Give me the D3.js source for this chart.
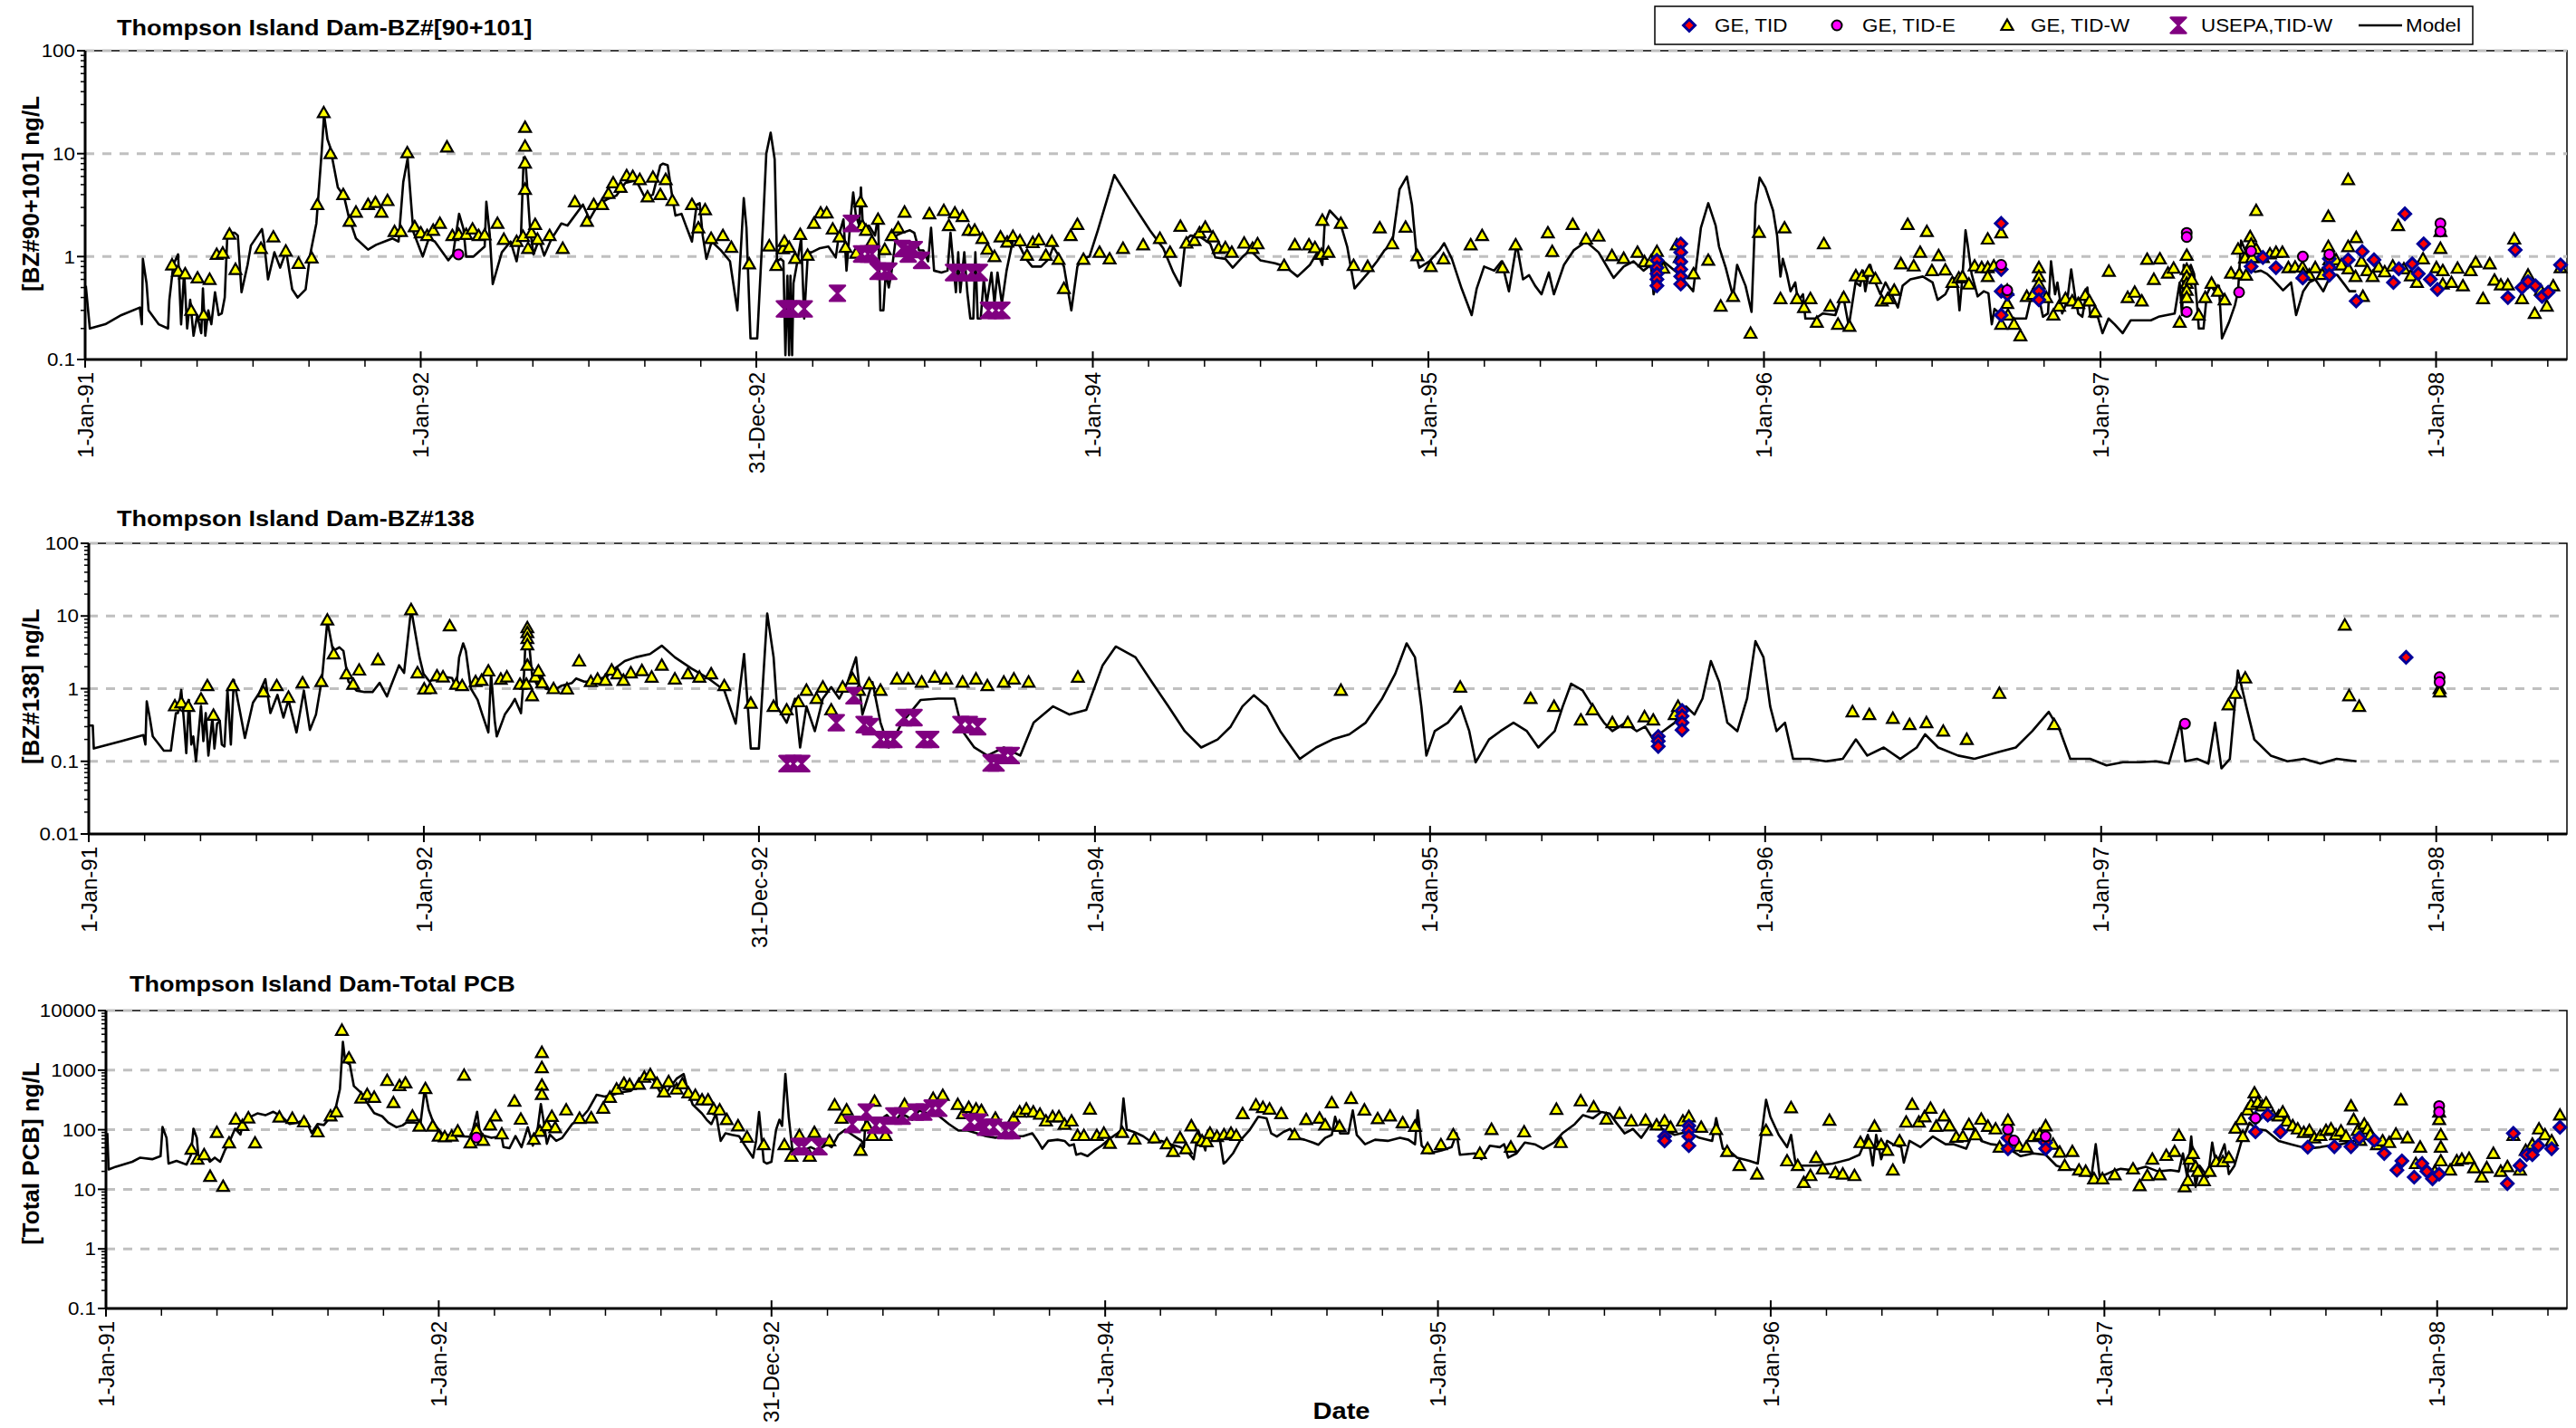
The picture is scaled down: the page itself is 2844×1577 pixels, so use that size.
<!DOCTYPE html>
<html>
<head>
<meta charset="utf-8">
<title>Thompson Island Dam PCB congeners</title>
<script src="https://cdn.jsdelivr.net/npm/d3@7"></script>
<style>
html,body{margin:0;padding:0;background:#fff;}
svg{display:block;}
</style>
</head>
<body>
<svg id="chart" width="2844" height="1577"></svg>
<script>
// ---------- axis labels ----------
const xTickDates = ["1991-01-01","1992-01-01","1992-12-31","1994-01-01","1995-01-01","1996-01-01","1997-01-01","1998-01-01"];
const xTickLabels = ["1-Jan-91","1-Jan-92","31-Dec-92","1-Jan-94","1-Jan-95","1-Jan-96","1-Jan-97","1-Jan-98"];
const panelTitles = ["Thompson Island Dam-BZ#[90+101]","Thompson Island Dam-BZ#138","Thompson Island Dam-Total PCB"];
const yTitles = ["[BZ#90+101] ng/L","[BZ#138] ng/L","[Total PCB] ng/L"];
const legendLabels = ["GE, TID","GE, TID-E","GE, TID-W","USEPA,TID-W","Model"];
const xTitle = "Date";

// ---------- BZ#90+101 (ng/L), [decimal year, value] ----------
const bz90Model = [[1991.002,0.52],[1991.014,0.2],[1991.06,0.22],[1991.108,0.27],[1991.163,0.32],[1991.169,0.22],[1991.172,0.95],[1991.183,0.55],[1991.189,0.3],[1991.219,0.22],[1991.247,0.2],[1991.251,0.38],[1991.263,0.84],[1991.277,1.05],[1991.286,0.22],[1991.295,0.72],[1991.304,0.2],[1991.313,0.38],[1991.323,0.17],[1991.334,0.27],[1991.346,0.18],[1991.351,0.49],[1991.358,0.17],[1991.367,0.3],[1991.376,0.22],[1991.387,0.45],[1991.398,0.27],[1991.407,0.28],[1991.416,0.4],[1991.424,1.7],[1991.446,1.7],[1991.455,1.6],[1991.466,0.45],[1991.484,0.83],[1991.494,1.28],[1991.514,1.6],[1991.527,1.85],[1991.533,1.4],[1991.545,0.6],[1991.564,1.1],[1991.581,0.78],[1991.599,1.13],[1991.617,0.48],[1991.633,0.4],[1991.657,0.48],[1991.67,1.02],[1991.689,2.1],[1991.705,10.6],[1991.712,24],[1991.722,13.8],[1991.73,11.6],[1991.753,4.7],[1991.771,3.9],[1991.786,2.4],[1991.807,1.5],[1991.843,1.17],[1991.867,1.3],[1991.892,1.4],[1991.916,1.5],[1991.934,1.4],[1991.948,5.3],[1991.961,9],[1991.978,1.74],[1992.006,1.0],[1992.024,1.5],[1992.042,1.4],[1992.082,0.92],[1992.096,1.05],[1992.114,2.6],[1992.127,1.85],[1992.135,1.0],[1992.157,1.0],[1992.19,1.25],[1992.195,3.4],[1992.205,1.65],[1992.214,0.54],[1992.241,1.1],[1992.267,1.4],[1992.285,0.9],[1992.298,1.63],[1992.306,9.2],[1992.313,7],[1992.325,1.85],[1992.335,1.05],[1992.352,1.47],[1992.367,1.02],[1992.388,1.47],[1992.418,2.1],[1992.436,2.0],[1992.482,3.2],[1992.502,2.3],[1992.527,3.2],[1992.554,3.6],[1992.581,3.9],[1992.608,5.2],
[1992.64,5.5],[1992.667,3.7],[1992.69,4.0],[1992.712,7.7],[1992.72,8],[1992.734,7.7],[1992.748,3.7],[1992.757,2.5],[1992.775,2.6],[1992.788,2.0],[1992.806,1.4],[1992.82,3.2],[1992.829,3.3],[1992.838,1.6],[1992.849,0.95],[1992.865,1.4],[1992.892,1.15],[1992.919,0.9],[1992.941,0.3],[1992.96,3.7],[1992.968,1.9],[1992.98,0.16],[1993.0,0.16],[1993.018,2.3],[1993.027,10],[1993.04,16],[1993.052,8.8],[1993.059,0.9],[1993.07,0.95],[1993.078,0.9],[1993.084,0.11],[1993.09,0.65],[1993.095,0.11],[1993.099,0.65],[1993.104,0.11],[1993.108,0.55],[1993.117,0.8],[1993.131,1.5],[1993.14,0.25],[1993.151,1.1],[1993.162,1.1],[1993.185,1.2],[1993.212,1.25],[1993.234,0.98],[1993.243,1.6],[1993.257,2.3],[1993.266,0.73],[1993.279,2.5],[1993.286,4.2],[1993.294,2.5],[1993.304,2.0],[1993.309,4.7],[1993.315,1.9],[1993.333,2.0],[1993.351,1.6],[1993.36,2.5],[1993.367,0.3],[1993.376,0.3],[1993.383,0.7],[1993.392,0.5],[1993.4,0.7],[1993.414,1.6],[1993.432,1.7],[1993.455,1.8],[1993.468,1.7],[1993.482,1.15],[1993.495,1.15],[1993.509,0.9],[1993.518,1.9],[1993.527,0.73],[1993.549,0.7],[1993.567,0.73],[1993.576,1.7],[1993.585,0.8],[1993.592,0.45],[1993.599,1.1],[1993.605,0.45],[1993.617,1.1],[1993.626,0.45],[1993.635,0.25],[1993.644,0.25],[1993.65,1.1],[1993.657,0.25],[1993.666,0.25],[1993.675,0.6],[1993.684,0.35],[1993.698,0.7],[1993.707,0.35],[1993.716,0.7],[1993.729,0.35],[1993.743,0.73],[1993.763,1.5],[1993.783,1.25],[1993.801,0.95],[1993.819,0.8],[1993.846,0.8],[1993.869,0.95],[1993.882,1.25],[1993.9,1.0],[1993.914,0.8],[1993.936,0.3],[1993.954,0.8],[1993.968,0.95],[1993.99,1.0],
[1994.015,1.8],[1994.064,6.2],[1994.12,3.2],[1994.17,1.8],[1994.21,1.2],[1994.24,0.7],
[1994.261,0.52],[1994.276,1.43],[1994.291,1.6],[1994.32,1.55],[1994.35,1.33],[1994.365,0.98],[1994.395,0.95],[1994.417,0.78],[1994.447,1.0],[1994.469,1.15],[1994.499,0.92],[1994.543,0.86],[1994.573,0.8],[1994.61,0.64],[1994.647,0.83],[1994.669,1.1],[1994.684,0.83],[1994.691,2.1],[1994.706,2.8],[1994.736,2.2],[1994.758,1.25],[1994.78,0.49],[1994.818,0.68],[1994.847,0.9],[1994.869,1.15],[1994.892,1.33],[1994.914,4.5],[1994.936,6.0],[1994.951,3.2],[1994.966,0.95],[1994.973,0.78],[1995.003,0.9],[1995.033,1.15],[1995.047,1.35],[1995.07,0.95],[1995.099,0.49],[1995.129,0.27],[1995.144,0.49],[1995.166,0.8],[1995.196,0.73],[1995.218,0.9],[1995.24,0.46],[1995.263,1.33],[1995.282,0.6],[1995.3,0.66],[1995.318,0.52],[1995.337,0.43],[1995.359,0.7],[1995.374,0.43],[1995.404,0.83],[1995.433,1.15],[1995.47,1.4],[1995.507,1.1],[1995.552,0.62],[1995.582,0.8],[1995.611,0.9],[1995.641,0.73],[1995.663,0.83],[1995.671,0.43],[1995.682,0.56],[1995.7,0.9],[1995.745,0.68],[1995.789,0.46],[1995.812,1.9],[1995.834,3.3],[1995.856,2.0],[1995.866,1.25],[1995.886,0.78],[1995.908,0.41],[1995.92,0.83],[1995.945,0.52],[1995.963,0.29],[1995.975,3.2],[1995.987,5.85],[1996.004,4.7],[1996.027,2.8],[1996.039,1.6],[1996.049,0.64],[1996.056,0.95],[1996.068,0.68],[1996.079,0.46],[1996.093,0.56],[1996.101,0.37],[1996.116,0.43],[1996.123,0.25],[1996.153,0.25],[1996.175,0.28],[1996.212,0.27],[1996.234,0.44],[1996.252,0.21],[1996.272,0.56],[1996.286,0.52],[1996.294,0.73],[1996.301,0.46],[1996.316,0.83],[1996.331,0.56],[1996.346,0.43],[1996.361,0.56],[1996.375,0.46],[1996.398,0.32],[1996.412,0.52],[1996.435,0.6],[1996.472,0.64],[1996.501,0.56],[1996.516,0.38],[1996.539,0.43],
[1996.563,0.62],[1996.575,0.52],[1996.581,0.3],[1996.59,0.65],[1996.599,1.8],[1996.605,1.33],[1996.617,0.68],[1996.635,0.41],[1996.653,0.46],[1996.667,0.44],[1996.677,0.22],[1996.685,0.31],[1996.701,0.28],[1996.719,0.26],[1996.743,0.25],[1996.779,0.25],[1996.791,0.37],[1996.805,0.49],[1996.817,0.4],[1996.829,0.26],[1996.844,0.28],[1996.853,0.9],[1996.865,0.43],[1996.872,0.56],[1996.886,0.28],[1996.901,0.37],[1996.913,0.75],[1996.925,0.4],[1996.934,0.28],[1996.946,0.26],[1996.961,0.5],[1996.97,0.26],[1996.992,0.26],[1997.006,0.18],[1997.024,0.25],[1997.042,0.22],[1997.066,0.18],[1997.09,0.24],[1997.126,0.24],[1997.15,0.24],[1997.173,0.26],[1997.197,0.27],[1997.221,0.28],[1997.236,0.56],[1997.243,0.27],[1997.248,0.83],[1997.257,0.62],[1997.269,0.83],[1997.279,0.68],[1997.287,0.37],[1997.293,0.2],[1997.307,0.2],[1997.317,0.43],[1997.329,0.52],[1997.341,0.46],[1997.353,0.52],[1997.362,0.16],[1997.383,0.23],[1997.401,0.34],[1997.41,0.46],[1997.419,1.43],[1997.431,1.16],[1997.443,0.78],[1997.461,0.71],[1997.478,0.73],[1997.496,0.68],[1997.514,0.6],[1997.544,0.47],[1997.568,0.56],[1997.583,0.27],[1997.604,0.46],[1997.622,0.56],[1997.64,0.6],[1997.664,0.46],[1997.688,0.68],[1997.706,0.66],[1997.73,0.52],[1997.742,0.46],[1997.762,0.46]];

const bz90TidW = [[1991.259,0.83],[1991.277,0.72],[1991.298,0.68],[1991.316,0.3],[1991.335,0.62],[1991.353,0.27],[1991.371,0.6],[1991.392,1.05],[1991.41,1.08],[1991.43,1.65],[1991.448,0.75],[1991.524,1.2],[1991.561,1.55],[1991.598,1.13],[1991.636,0.86],[1991.675,0.97],[1991.692,3.2],[1991.711,25],[1991.731,10],[1991.769,4.0],[1991.788,2.2],[1991.807,2.7],[1991.843,3.2],[1991.865,3.35],[1991.883,2.7],[1991.901,3.5],[1991.922,1.75],[1991.941,1.75],[1991.96,10.2],[1991.982,1.95],[1992.0,1.7],[1992.019,1.6],[1992.037,1.8],[1992.057,2.1],[1992.078,11.6],[1992.094,1.6],[1992.113,1.64],[1992.135,1.64],[1992.154,1.85],[1992.172,1.6],[1992.19,1.62],[1992.228,2.1],[1992.247,1.47],[1992.285,1.4],[1992.304,1.57],[1992.31,18],[1992.31,11.8],[1992.31,8.1],[1992.31,4.5],[1992.319,1.2],[1992.329,1.7],[1992.34,2.05],[1992.347,1.47],[1992.383,1.6],[1992.422,1.2],[1992.458,3.4],[1992.494,2.2],[1992.514,3.2],[1992.539,3.2],[1992.558,4.1],[1992.572,5.2],[1992.594,4.7],[1992.612,6.1],[1992.63,6.0],
[1992.651,5.6],[1992.674,3.8],[1992.69,5.9],[1992.712,4.0],[1992.728,5.6],[1992.748,3.5],[1992.806,3.2],[1992.825,1.9],[1992.845,2.85],[1992.863,1.5],[1992.898,1.6],[1992.923,1.23],[1992.976,0.85],[1993.036,1.27],[1993.057,0.82],[1993.077,1.19],[1993.081,1.4],[1993.095,1.23],[1993.113,0.96],[1993.128,1.64],[1993.15,1.03],[1993.169,2.1],[1993.189,2.65],[1993.207,2.65],[1993.225,1.85],[1993.245,1.55],[1993.263,1.23],[1993.295,1.08],[1993.308,3.4],[1993.313,2.0],[1993.324,1.8],[1993.342,1.4],[1993.36,2.3],[1993.38,1.17],[1993.401,1.6],[1993.42,1.9],[1993.439,2.7],[1993.513,2.6],[1993.556,2.8],[1993.571,2.0],[1993.589,2.65],[1993.612,2.45],[1993.63,1.8],[1993.648,1.8],[1993.671,1.5],[1993.686,1.18],[1993.707,1.0],[1993.725,1.55],[1993.745,1.38],[1993.762,1.57],[1993.783,1.42],[1993.804,1.03],[1993.821,1.37],[1993.839,1.45],[1993.86,1.03],[1993.878,1.4],[1993.898,0.94],[1993.914,0.49],[1993.934,1.6],[1993.954,2.05],[1993.972,0.94],
[1994.02,1.1],[1994.05,0.95],[1994.09,1.2],[1994.15,1.3],[1994.2,1.5],[1994.23,1.1],
[1994.261,1.97],[1994.279,1.35],[1994.303,1.43],[1994.318,1.7],[1994.335,1.93],[1994.358,1.55],[1994.375,1.2],[1994.395,1.22],[1994.414,1.1],[1994.451,1.35],[1994.476,1.2],[1994.491,1.33],[1994.57,0.82],[1994.602,1.3],[1994.644,1.3],[1994.662,1.22],[1994.681,1.05],[1994.684,2.25],[1994.702,1.1],[1994.739,2.1],[1994.777,0.82],[1994.819,0.8],[1994.855,1.9],[1994.892,1.33],[1994.932,1.93],[1994.967,1.02],[1995.007,0.8],[1995.045,0.95],[1995.126,1.3],[1995.16,1.6],[1995.221,0.78],[1995.26,1.3],[1995.356,1.7],[1995.369,1.12],[1995.43,2.05],[1995.47,1.48],[1995.507,1.58],[1995.547,1.02],[1995.582,0.96],[1995.623,1.1],[1995.644,0.89],[1995.663,0.9],[1995.681,1.12],[1995.7,0.77],[1995.74,1.3],[1995.749,0.98],[1995.79,0.68],[1995.834,0.92],[1995.871,0.33],[1995.908,0.41],[1995.96,0.18],[1995.985,1.72],[1996.049,0.39],[1996.061,1.9],[1996.098,0.39],[1996.119,0.32],[1996.138,0.39],[1996.157,0.23],[1996.178,1.33],[1996.197,0.33],[1996.22,0.22],[1996.237,0.4],[1996.254,0.21],[1996.273,0.65],[1996.291,0.64],[1996.312,0.72],[1996.331,0.61],[1996.35,0.37],[1996.368,0.39],[1996.387,0.47],[1996.407,0.85],[1996.427,2.05],[1996.445,0.81],[1996.464,1.1],[1996.484,1.75],[1996.499,0.73],[1996.519,1.02],[1996.539,0.74],[1996.56,0.56],[1996.579,0.62],
[1996.59,0.64],[1996.609,0.54],[1996.626,0.81],[1996.647,0.78],[1996.665,1.48],[1996.665,0.78],[1996.665,0.64],[1996.683,0.81],[1996.705,1.7],[1996.705,0.22],[1996.723,0.47],[1996.723,0.35],[1996.725,0.27],[1996.743,0.22],[1996.762,0.17],[1996.781,0.41],[1996.8,0.43],[1996.817,0.78],[1996.817,0.64],[1996.817,0.54],[1996.839,0.4],[1996.86,0.27],[1996.877,0.33],[1996.896,0.39],[1996.916,0.37],[1996.934,0.35],[1996.955,0.42],[1996.967,0.37],[1996.984,0.29],[1997.025,0.72],[1997.081,0.4],[1997.102,0.45],[1997.123,0.37],[1997.139,0.94],[1997.159,0.6],[1997.177,0.95],[1997.201,0.69],[1997.218,0.77],[1997.236,0.23],[1997.257,1.03],[1997.257,0.75],[1997.257,0.64],[1997.257,0.55],[1997.257,0.47],[1997.257,0.4],[1997.272,0.6],[1997.293,0.27],[1997.312,0.4],[1997.331,0.55],[1997.35,0.46],[1997.37,0.38],[1997.389,0.69],[1997.41,1.18],[1997.414,0.68],[1997.431,0.97],[1997.434,0.66],[1997.446,1.56],[1997.449,1.32],[1997.452,0.98],[1997.464,1.18],[1997.464,2.8],[1997.484,0.98],[1997.505,1.06],[1997.523,1.1],[1997.542,1.1],[1997.56,0.78],[1997.58,0.79],[1997.602,0.79],[1997.604,0.68],[1997.622,0.66],[1997.64,0.78],[1997.661,0.67],[1997.679,2.45],[1997.679,1.25],[1997.682,0.93],[1997.702,0.93],[1997.718,0.83],[1997.738,5.6],[1997.738,1.25],[1997.739,0.76],[1997.76,0.64],[1997.762,1.53],[1997.778,0.9],[1997.782,0.41],[1997.795,0.73],[1997.811,0.64],[1997.829,0.79],[1997.847,0.71],[1997.871,0.81],[1997.887,2.0],[1997.904,0.76],[1997.925,0.65],[1997.943,0.56],[1997.961,0.95],[1998.001,0.78],[1998.013,1.2],[1998.013,1.75],[1998.02,0.73],[1998.02,0.54],[1998.046,0.56],[1998.064,0.77],[1998.08,0.52],[1998.103,0.73],[1998.118,0.88],[1998.14,0.39],[1998.16,0.85],[1998.174,0.59],[1998.193,0.53],[1998.214,0.53],[1998.233,1.48],[1998.256,0.39],[1998.274,0.66],[1998.294,0.28],[1998.312,0.47],[1998.33,0.33],[1998.349,0.52],[1998.371,0.78]];

const bz90Tid = [[1995.681,0.92],[1995.681,0.78],[1995.681,0.68],[1995.681,0.6],[1995.681,0.52],[1995.752,1.33],[1995.752,1.1],[1995.752,0.89],[1995.752,0.75],[1995.752,0.64],[1995.752,0.54],[1996.705,2.1],[1996.705,0.75],[1996.705,0.46],[1996.705,0.27],[1996.723,0.43],[1996.817,0.46],[1996.817,0.38],[1997.449,0.8],[1997.484,0.98],[1997.523,0.78],[1997.603,0.62],[1997.682,0.95],[1997.682,0.78],[1997.682,0.66],[1997.738,0.93],[1997.762,0.37],[1997.78,1.12],[1997.815,0.93],[1997.873,0.56],[1997.889,0.76],[1997.907,2.6],[1997.929,0.85],[1997.947,0.68],[1997.963,1.33],[1997.983,0.6],[1998.004,0.48],[1998.214,0.4],[1998.236,1.16],[1998.256,0.5],[1998.274,0.57],[1998.296,0.52],[1998.316,0.41],[1998.334,0.45],[1998.371,0.83]];

const bz90TidE = [[1992.112,1.05],[1996.705,0.83],[1996.723,0.47],[1997.257,1.7],[1997.257,1.55],[1997.257,0.29],[1997.413,0.45],[1997.449,1.13],[1997.603,1.0],[1997.682,1.05],[1998.013,2.1],[1998.013,1.75]];

const bz90Usepa = [[1993.081,0.31],[1993.093,0.31],[1993.104,0.31],[1993.14,0.31],[1993.239,0.44],[1993.281,2.1],[1993.311,1.06],[1993.33,1.06],[1993.342,1.06],[1993.36,0.72],[1993.38,0.72],[1993.392,0.72],[1993.432,1.2],[1993.45,1.06],[1993.468,1.17],[1993.49,0.92],[1993.585,0.7],[1993.612,0.7],[1993.639,0.7],[1993.662,0.7],[1993.689,0.3],[1993.711,0.3],[1993.729,0.3]];

// ---------- BZ#138 (ng/L) ----------
const bz138Model = [[1991.002,0.31],[1991.012,0.31],[1991.015,0.15],[1991.097,0.19],[1991.163,0.23],[1991.169,0.17],[1991.173,0.67],[1991.182,0.4],[1991.191,0.22],[1991.224,0.14],[1991.245,0.14],[1991.252,0.25],[1991.26,0.46],[1991.266,0.46],[1991.276,0.96],[1991.284,0.36],[1991.291,0.13],[1991.299,0.7],[1991.306,0.17],[1991.312,0.22],[1991.32,0.1],[1991.326,0.2],[1991.335,0.58],[1991.342,0.19],[1991.349,0.46],[1991.357,0.12],[1991.363,0.22],[1991.369,0.4],[1991.375,0.15],[1991.383,0.33],[1991.391,0.36],[1991.397,0.17],[1991.405,0.16],[1991.414,0.96],[1991.424,0.17],[1991.433,1.32],[1991.448,0.58],[1991.466,0.21],[1991.49,0.64],[1991.508,0.86],[1991.527,1.35],[1991.542,0.46],[1991.563,0.82],[1991.581,0.4],[1991.596,0.7],[1991.62,0.25],[1991.642,0.94],[1991.66,0.27],[1991.678,0.44],[1991.696,1.38],[1991.712,8.5],[1991.729,3.3],[1991.748,3.7],[1991.76,3.3],[1991.775,1.25],[1991.799,0.94],[1991.823,0.9],[1991.847,0.9],[1991.868,1.2],[1991.89,0.78],[1991.902,1.1],[1991.926,2.1],[1991.941,1.65],[1991.962,12.5],[1991.987,2.7],[1991.999,1.6],[1992.017,1.25],[1992.041,1.5],[1992.084,1.4],[1992.096,1.0],[1992.105,2.7],[1992.117,4.2],[1992.125,3.3],[1992.14,1.0],[1992.16,0.7],[1992.174,0.44],[1992.192,0.25],[1992.2,1.6],[1992.211,0.36],[1992.217,0.22],[1992.241,0.44],[1992.259,0.58],[1992.271,0.72],[1992.289,0.46],[1992.298,1.55],[1992.305,7.7],[1992.314,3.8],[1992.322,1.55],[1992.338,1.1],[1992.35,1.55],[1992.362,1.0],[1992.386,0.94],[1992.41,1.1],[1992.441,1.2],[1992.453,1.38],[1992.477,1.25],[1992.501,1.25],[1992.525,1.38],[1992.544,1.45],[1992.562,1.8],[1992.598,2.4],
[1992.63,2.7],[1992.673,3.0],[1992.708,3.9],[1992.747,2.7],[1992.796,1.9],[1992.845,1.4],[1992.894,0.95],[1992.928,0.33],[1992.953,3.0],[1992.973,0.15],[1992.997,0.15],[1993.022,10.8],[1993.041,2.7],[1993.051,0.57],[1993.08,0.34],[1993.105,0.73],[1993.12,0.155],[1993.139,0.57],[1993.164,0.26],[1993.188,0.73],[1993.213,1.05],[1993.237,0.73],[1993.262,1.23],[1993.287,2.7],[1993.306,0.44],[1993.336,1.23],[1993.36,0.34],[1993.385,0.155],[1993.424,0.34],[1993.48,0.7],[1993.532,0.73],[1993.581,0.73],[1993.605,0.26],[1993.64,0.155],[1993.679,0.12],[1993.728,0.155],[1993.777,0.12],[1993.817,0.34],[1993.875,0.57],[1993.924,0.44],[1993.974,0.51],[1994.023,2.1],[1994.062,3.8],[1994.121,2.7],[1994.17,1.23],[1994.219,0.57],[1994.268,0.26],[1994.317,0.155],[1994.366,0.2],[1994.405,0.3],[1994.44,0.57],[1994.474,0.81],[1994.513,0.57],[1994.553,0.26],[1994.587,0.155],[1994.611,0.108],[1994.66,0.155],[1994.709,0.2],[1994.759,0.235],[1994.808,0.34],[1994.857,0.73],[1994.896,1.6],[1994.93,4.2],[1994.955,2.7],[1994.974,0.57],[1994.989,0.12],[1995.014,0.26],[1995.053,0.34],[1995.092,0.57],[1995.117,0.26],[1995.136,0.097],[1995.176,0.2],[1995.21,0.26],[1995.249,0.34],[1995.289,0.26],[1995.323,0.155],[1995.372,0.26],[1995.396,0.57],[1995.421,1.17],[1995.455,0.95],[1995.485,0.57],[1995.519,0.34],[1995.544,0.26],[1995.583,0.34],[1995.617,0.26],[1995.642,0.3],[1995.666,0.2],[1995.691,0.25],[1995.73,0.34],[1995.764,0.57],[1995.789,0.44],[1995.813,0.73],[1995.838,2.4],[1995.863,1.23],[1995.887,0.34],[1995.917,0.26],[1995.946,0.73],[1995.971,4.5],[1995.995,2.7],[1996.015,0.57],[1996.034,0.26],[1996.059,0.34],[1996.083,0.108],[1996.132,0.108],[1996.181,0.1],[1996.231,0.108],[1996.27,0.2],[1996.304,0.12],[1996.353,0.155],[1996.402,0.108],[1996.451,0.155],[1996.476,0.235],[1996.515,0.155],[1996.574,0.12],[1996.623,0.108],[1996.697,0.135],[1996.746,0.155],[1996.795,0.26],[1996.844,0.48],[1996.878,0.26],[1996.908,0.108],[1996.967,0.108],[1997.016,0.088],[1997.065,0.097],[1997.114,0.097],[1997.163,0.1],[1997.202,0.093],[1997.237,0.34],[1997.251,0.1],[1997.286,0.108],[1997.32,0.093],[1997.34,0.34],[1997.359,0.08],[1997.384,0.108],[1997.408,1.77],[1997.433,0.57],[1997.457,0.2],[1997.506,0.12],[1997.556,0.1],[1997.605,0.108],[1997.654,0.093],[1997.703,0.108],[1997.762,0.1]];

const bz138TidW = [[1991.257,0.58],[1991.276,0.64],[1991.297,0.57],[1991.335,0.72],[1991.354,1.1],[1991.372,0.43],[1991.43,1.1],[1991.521,0.9],[1991.561,1.1],[1991.596,0.76],[1991.638,1.2],[1991.694,1.25],[1991.712,8.8],[1991.731,3.0],[1991.769,1.6],[1991.789,1.15],[1991.807,1.8],[1991.863,2.5],[1991.962,12.2],[1991.981,1.65],[1992.001,0.99],[1992.019,1.0],[1992.039,1.5],[1992.057,1.45],[1992.077,7.3],[1992.096,1.15],[1992.114,1.1],[1992.154,1.25],[1992.172,1.3],[1992.192,1.75],[1992.229,1.35],[1992.247,1.45],[1992.286,1.15],[1992.308,6.9],[1992.308,5.9],[1992.308,4.9],[1992.308,4.0],[1992.308,2.1],[1992.305,1.15],[1992.322,0.8],[1992.332,1.45],[1992.341,1.75],[1992.352,1.2],[1992.386,1.0],[1992.426,0.99],[1992.462,2.4],[1992.497,1.25],[1992.517,1.35],[1992.54,1.3],[1992.559,1.8],[1992.576,1.6],[1992.594,1.3],[1992.616,1.65],
[1992.649,1.77],[1992.678,1.44],[1992.708,2.1],[1992.747,1.36],[1992.786,1.6],[1992.82,1.44],[1992.855,1.6],[1992.894,1.1],[1992.973,0.63],[1993.041,0.57],[1993.08,0.51],[1993.115,0.66],[1993.139,0.95],[1993.169,0.73],[1993.188,1.05],[1993.213,0.51],[1993.247,1.05],[1993.277,1.36],[1993.296,0.95],[1993.326,1.17],[1993.36,0.95],[1993.409,1.36],[1993.443,1.36],[1993.483,1.23],[1993.522,1.44],[1993.556,1.36],[1993.605,1.23],[1993.645,1.36],[1993.679,1.1],[1993.728,1.23],[1993.758,1.36],[1993.802,1.23],[1993.949,1.44],
[1994.734,0.95],[1995.09,1.05],[1995.3,0.73],[1995.37,0.57],[1995.45,0.37],[1995.485,0.51],[1995.544,0.34],[1995.59,0.34],[1995.64,0.41],[1995.666,0.37],[1995.73,0.44],[1995.74,0.57],[1996.26,0.48],[1996.31,0.44],[1996.38,0.39],[1996.43,0.32],[1996.48,0.34],[1996.53,0.26],[1996.6,0.2],[1996.697,0.86],[1996.86,0.32],[1997.38,0.6],[1997.4,0.86],[1997.43,1.4],[1997.727,7.5],[1997.74,0.8],[1997.77,0.57],[1998.01,1.0],[1998.01,0.9]];

const bz138Tid = [[1995.681,0.22],[1995.681,0.19],[1995.681,0.16],[1995.752,0.5],[1995.752,0.42],[1995.752,0.34],[1995.752,0.27],[1997.91,2.7]];
const bz138TidE = [[1997.25,0.33],[1998.01,1.44],[1998.01,1.23]];
const bz138Usepa = [[1993.081,0.093],[1993.1,0.093],[1993.125,0.093],[1993.228,0.34],[1993.281,0.8],[1993.311,0.32],[1993.33,0.3],[1993.36,0.2],[1993.38,0.2],[1993.4,0.2],[1993.43,0.4],[1993.46,0.4],[1993.49,0.2],[1993.51,0.2],[1993.6,0.32],[1993.625,0.32],[1993.65,0.3],[1993.69,0.095],[1993.705,0.095],[1993.73,0.12],[1993.75,0.12]];

// ---------- Total PCB (ng/L) ----------
const tpcbModel = [[1991.004,88],[1991.008,21.5],[1991.03,24],[1991.079,29],[1991.103,34],[1991.139,32],[1991.164,36],[1991.17,111],[1991.182,73],[1991.188,27],[1991.212,30],[1991.242,26],[1991.255,37],[1991.263,104],[1991.273,73],[1991.279,29],[1991.297,41],[1991.312,29],[1991.327,34],[1991.343,29],[1991.358,46],[1991.37,61],[1991.388,104],[1991.404,83],[1991.412,132],[1991.43,160],[1991.455,188],[1991.479,175],[1991.503,200],[1991.527,168],[1991.552,125],[1991.576,132],[1991.6,150],[1991.618,88],[1991.636,125],[1991.655,120],[1991.673,160],[1991.691,240],[1991.703,480],[1991.712,2980],[1991.719,1400],[1991.733,1240],[1991.745,540],[1991.764,430],[1991.782,300],[1991.806,190],[1991.83,168],[1991.848,132],[1991.873,110],[1991.891,118],[1991.903,132],[1991.927,132],[1991.945,125],[1991.958,480],[1991.97,215],[1991.982,140],[1991.994,110],[1992.012,83],[1992.061,78],[1992.097,76],[1992.115,200],[1992.124,83],[1992.158,73],[1992.188,78],[1992.194,51],[1992.212,49],[1992.23,78],[1992.248,51],[1992.267,110],[1992.282,54],[1992.297,110],[1992.306,270],[1992.315,132],[1992.324,58],[1992.333,83],[1992.352,65],[1992.37,73],[1992.4,125],[1992.424,150],[1992.448,215],[1992.473,385],[1992.497,360],[1992.521,385],[1992.552,430],[1992.576,450],
[1992.581,477],[1992.602,600],[1992.623,810],[1992.644,680],[1992.664,425],[1992.678,377],[1992.692,505],[1992.713,720],[1992.734,860],[1992.748,425],[1992.761,265],[1992.789,187],[1992.803,147],[1992.817,124],[1992.831,187],[1992.845,65],[1992.859,87],[1992.879,82],[1992.9,78],[1992.921,51],[1992.942,34],[1992.951,65],[1992.96,198],[1992.974,29],[1992.983,27],[1992.997,29],[1993.011,100],[1993.021,147],[1993.029,116],[1993.039,860],[1993.049,165],[1993.06,45],[1993.074,48],[1993.094,45],[1993.115,51],[1993.136,45],[1993.15,51],[1993.164,57],[1993.178,51],[1993.198,82],[1993.219,100],[1993.24,82],[1993.254,73],[1993.268,65],[1993.275,51],[1993.282,245],[1993.288,100],[1993.302,100],[1993.323,147],[1993.344,176],[1993.365,130],[1993.386,187],[1993.406,165],[1993.42,147],[1993.441,210],[1993.469,187],[1993.49,198],[1993.503,165],[1993.531,124],[1993.559,97],[1993.587,97],[1993.614,87],[1993.642,78],[1993.67,73],[1993.698,78],[1993.725,78],[1993.753,78],[1993.781,87],[1993.797,65],[1993.811,48],[1993.829,65],[1993.857,68],[1993.878,65],[1993.892,54],[1993.906,57],[1993.913,38],[1993.927,40],[1993.947,36],[1993.968,45],[1993.989,54],[1994.017,73],[1994.037,87],[1994.047,97],[1994.055,335],[1994.065,100],[1994.086,92],[1994.114,78],[1994.141,61],[1994.169,65],[1994.197,57],[1994.225,51],[1994.245,45],[1994.266,32],[1994.28,97],[1994.291,65],[1994.301,45],[1994.308,97],[1994.322,82],[1994.343,78],[1994.356,27],[1994.363,29],[1994.384,40],[1994.405,65],[1994.433,97],[1994.46,165],[1994.485,155],
[1994.499,87],[1994.516,77],[1994.536,92],[1994.556,103],[1994.574,73],[1994.599,68],[1994.624,61],[1994.641,56],[1994.661,73],[1994.681,82],[1994.691,165],[1994.706,87],[1994.731,87],[1994.744,210],[1994.756,82],[1994.781,57],[1994.811,68],[1994.849,65],[1994.886,73],[1994.911,68],[1994.931,57],[1994.939,210],[1994.951,54],[1994.974,40],[1995.011,45],[1995.041,51],[1995.056,87],[1995.066,38],[1995.111,40],[1995.131,32],[1995.156,54],[1995.186,51],[1995.199,57],[1995.211,34],[1995.236,40],[1995.261,61],[1995.291,57],[1995.316,48],[1995.349,61],[1995.374,87],[1995.411,124],[1995.436,176],[1995.466,156],[1995.491,198],[1995.516,187],[1995.536,131],[1995.561,87],[1995.586,103],[1995.611,73],[1995.636,116],[1995.674,103],[1995.711,82],[1995.749,92],[1995.786,73],[1995.824,65],[1995.836,156],[1995.856,48],[1995.874,45],[1995.899,34],[1995.936,30],[1995.961,27],[1995.986,317],[1995.999,165],[1996.024,82],[1996.049,51],[1996.061,82],[1996.074,28],[1996.086,25],[1996.136,25],[1996.186,27],[1996.236,32],[1996.266,38],[1996.291,82],[1996.306,25],[1996.316,82],[1996.331,32],[1996.349,65],[1996.366,57],[1996.391,51],[1996.399,28],[1996.416,65],[1996.449,51],[1996.486,77],[1996.524,57],[1996.549,57],[1996.586,48],[1996.611,103],[1996.631,65],[1996.661,57],[1996.699,54],[1996.749,36],[1996.786,40],[1996.824,38],[1996.856,25],[1996.886,22],[1996.924,21],[1996.961,16],[1996.974,57],[1996.986,16],[1997.024,20],[1997.049,22],[1997.086,21],[1997.124,24],[1997.161,20],[1997.199,21],[1997.224,20],[1997.236,40],[1997.249,16],[1997.261,77],[1997.274,11],[1997.286,25],[1997.311,16],[1997.324,61],[1997.336,25],[1997.361,57],[1997.374,18],[1997.391,25],[1997.411,61],[1997.436,131],[1997.456,103],[1997.486,97],[1997.524,65],[1997.561,57],[1997.611,48],[1997.649,51],[1997.674,54],[1997.711,57],[1997.749,65],[1997.786,73],[1997.811,73]];

const tpcbTidW = [[1991.257,47],[1991.275,32],[1991.295,38],[1991.313,16.5],[1991.333,90],[1991.352,11.2],[1991.37,60],[1991.39,150],[1991.41,118],[1991.428,158],[1991.448,60],[1991.521,163],[1991.56,155],[1991.595,135],[1991.636,92],[1991.675,170],[1991.692,200],[1991.709,4660],[1991.73,1600],[1991.767,340],[1991.785,390],[1991.806,350],[1991.845,670],[1991.864,285],[1991.882,550],[1991.9,610],[1991.921,170],[1991.942,115],[1991.96,490],[1991.982,115],[1992.0,78],[1992.018,76],[1992.039,78],[1992.057,95],[1992.076,820],[1992.095,60],[1992.113,100],[1992.133,66],[1992.154,120],[1992.17,170],[1992.189,85],[1992.227,300],[1992.246,150],[1992.285,69],[1992.303,94],[1992.309,1980],[1992.309,1100],[1992.309,560],[1992.309,390],[1992.324,117],[1992.339,167],[1992.349,108],[1992.382,215],[1992.422,155],[1992.457,158],[1992.493,230],[1992.513,350],[1992.533,480],[1992.555,600],[1992.572,570],
[1992.6,580],[1992.616,760],[1992.634,840],[1992.654,600],[1992.675,430],[1992.689,640],[1992.713,480],[1992.73,590],[1992.748,415],[1992.769,377],[1992.789,317],[1992.807,317],[1992.824,222],[1992.842,215],[1992.863,148],[1992.897,116],[1992.924,75],[1992.974,56],[1993.036,56],[1993.057,36],[1993.081,80],[1993.112,36],[1993.126,90],[1993.171,65],[1993.187,260],[1993.208,156],[1993.223,215],[1993.265,45],[1993.284,116],[1993.3,80],[1993.307,300],[1993.34,80],[1993.397,265],[1993.483,335],[1993.512,377],[1993.557,265],[1993.573,186],[1993.59,236],[1993.612,222],[1993.628,210],[1993.67,156],[1993.725,156],[1993.743,198],[1993.763,222],[1993.784,198],[1993.804,182],[1993.822,140],[1993.842,165],[1993.861,165],[1993.878,123],[1993.899,140],[1993.917,80],[1993.936,80],[1993.954,222],[1993.975,80],[1993.996,87],[1994.014,59],[1994.051,90],[1994.088,70],[1994.148,73],[1994.185,58],[1994.204,43],[1994.225,73],[1994.243,48],[1994.259,116],[1994.277,73],[1994.291,65],[1994.305,63],[1994.315,87],[1994.336,77],[1994.357,82],[1994.378,87],[1994.394,80],[1994.413,186],[1994.453,260],[1994.474,236],
[1994.494,222],[1994.529,186],[1994.569,82],[1994.604,148],[1994.644,156],[1994.661,120],[1994.681,282],[1994.704,114],[1994.739,335],[1994.779,214],[1994.819,153],[1994.856,170],[1994.894,131],[1994.931,114],[1994.969,48],[1995.009,56],[1995.046,82],[1995.126,40],[1995.161,101],[1995.219,51],[1995.259,92],[1995.356,220],[1995.369,61],[1995.429,305],[1995.468,241],[1995.506,151],[1995.546,187],[1995.581,140],[1995.624,144],[1995.657,120],[1995.681,140],[1995.699,110],[1995.736,140],[1995.754,165],[1995.791,110],[1995.836,101],[1995.869,43],[1995.906,25],[1995.959,18],[1995.986,97],[1996.049,30],[1996.061,234],[1996.081,25],[1996.099,13],[1996.119,17],[1996.136,34],[1996.156,22],[1996.176,144],[1996.194,19],[1996.216,18],[1996.251,17],[1996.269,61],[1996.294,59],[1996.311,114],[1996.331,56],[1996.349,45],[1996.366,21],[1996.386,65],[1996.406,134],[1996.424,265],[1996.444,134],[1996.461,165],[1996.479,229],[1996.496,114],[1996.519,170],[1996.536,116],[1996.556,75],[1996.576,77],[1996.594,122],[1996.614,82],[1996.631,150],[1996.651,114],[1996.674,103],[1996.686,51],[1996.711,144],[1996.724,57],[1996.744,53],[1996.766,51],[1996.786,77],[1996.806,83],[1996.824,116],[1996.846,57],[1996.866,42],[1996.881,25],[1996.904,43],[1996.924,21],[1996.944,20],[1996.969,15],[1996.994,15],[1997.031,17.5],[1997.086,22],[1997.106,11.5],[1997.129,17],[1997.144,32],[1997.166,17.5],[1997.186,37],[1997.211,43],[1997.224,80],[1997.241,11],[1997.251,14],[1997.256,32],[1997.266,40],[1997.274,24],[1997.281,20],[1997.299,14],[1997.316,20],[1997.336,29],[1997.356,29],[1997.374,34],[1997.394,106],[1997.411,148],[1997.416,77],[1997.431,215],[1997.441,265],[1997.451,415],[1997.461,290],[1997.474,250],[1997.486,280],[1997.506,176],[1997.524,170],[1997.536,198],[1997.549,140],[1997.566,116],[1997.581,103],[1997.599,90],[1997.616,97],[1997.631,73],[1997.649,80],[1997.666,97],[1997.681,103],[1997.696,82],[1997.711,95],[1997.726,77],[1997.741,250],[1997.749,148],[1997.761,97],[1997.769,66],[1997.781,124],[1997.791,103],[1997.799,82],[1997.819,56],[1997.836,65],[1997.856,61],[1997.876,84],[1997.891,317],[1997.911,73],[1997.949,51],[1997.936,27],[1997.956,27],[1997.993,20],[1998.006,198],[1998.006,148],[1998.011,82],[1998.011,51],[1998.011,30],[1998.039,21],[1998.059,30],[1998.074,32],[1998.096,33],[1998.111,23],[1998.134,16],[1998.149,23],[1998.169,40],[1998.191,20],[1998.211,24],[1998.229,80],[1998.249,21],[1998.266,45],[1998.286,57],[1998.306,103],[1998.324,82],[1998.344,65],[1998.369,176]];

const tpcbTid = [[1995.681,77],[1995.681,65],[1995.754,116],[1995.754,97],[1995.754,77],[1995.754,54],[1996.711,73],[1996.711,48],[1996.824,61],[1996.824,48],[1997.454,156],[1997.454,92],[1997.491,176],[1997.529,92],[1997.611,51],[1997.691,52],[1997.741,52],[1997.766,73],[1997.811,66],[1997.841,40],[1997.879,21],[1997.894,30],[1997.931,16],[1997.954,27],[1997.969,20],[1997.986,15],[1998.006,18],[1998.211,12.5],[1998.229,87],[1998.249,25],[1998.269,38],[1998.286,38],[1998.304,54],[1998.344,48],[1998.369,110]];
const tpcbTidE = [[1992.113,74],[1996.711,101],[1996.729,66],[1996.824,77],[1997.454,156],[1998.006,250],[1998.006,198]];
const tpcbUsepa = [[1993.08,52],[1993.095,52],[1993.14,52],[1993.24,123],[1993.282,198],[1993.31,119],[1993.335,119],[1993.365,170],[1993.39,170],[1993.43,198],[1993.455,198],[1993.48,230],[1993.5,230],[1993.595,134],[1993.62,134],[1993.64,110],[1993.665,110],[1993.7,97],[1993.72,97]];

// ---------- drawing ----------
const FONT = "'Liberation Sans', Arial, Helvetica, sans-serif";
const SX = 1.12;               // text is set slightly wide
const svg = d3.select("#chart");
svg.append("rect").attr("width", 2844).attr("height", 1577).attr("fill", "#fff");

// decimal year -> Date
function yd(v) {
  const Y = Math.floor(v);
  const a = Date.UTC(Y, 0, 1), b = Date.UTC(Y + 1, 0, 1);
  return new Date(a + (v - Y) * (b - a));
}
const xStart = new Date(Date.UTC(1991, 0, 1));
const xEnd = yd(1998.39);
const tickDates = xTickDates.map(s => new Date(s + "T00:00:00Z"));
const minorDates = [];
for (let k = 1; ; k++) {
  const d = new Date(xStart.getTime() + k * 365.25 / 6 * 864e5);
  if (d > xEnd) break;
  if (k % 6 !== 0) minorDates.push(d);
}

const shapes = {
  tri: "M0,-6.5L6.5,5L-6.5,5Z",
  dia: "M0,-6.5L6.5,0L0,6.5L-6.5,0Z",
  star: "M-8.5,-8.5L8.5,-8.5L-8.5,8.5L8.5,8.5ZM0,-8.5L0,8.5"
};

function styleMarker(sel, kind) {
  if (kind === "tri") sel.attr("d", shapes.tri).attr("fill", "#ffff00").attr("stroke", "#000").attr("stroke-width", 2.2);
  if (kind === "dia") sel.attr("d", shapes.dia).attr("fill", "#ff0000").attr("stroke", "#000099").attr("stroke-width", 3);
  if (kind === "cir") sel.attr("d", d3.symbol(d3.symbolCircle, 95)()).attr("fill", "#ff00ff").attr("stroke", "#000").attr("stroke-width", 2);
  if (kind === "star") sel.attr("d", shapes.star).attr("fill", "#800080").attr("stroke", "#800080").attr("stroke-width", 2.4).attr("stroke-linejoin", "round");
  return sel;
}

function markers(g, data, kind, x, y) {
  const sel = g.append("g").selectAll("path").data(data).join("path")
    .attr("transform", d => `translate(${x(yd(d[0]))},${y(d[1])})`);
  styleMarker(sel, kind);
}

function drawPanel(p) {
  const g = svg.append("g");
  const x = d3.scaleUtc().domain([xStart, xEnd]).range([p.left, p.right]);
  const y = d3.scaleLog().domain(p.yDomain).range([p.bottom, p.top]);
  const eLo = Math.round(Math.log10(p.yDomain[0])), eHi = Math.round(Math.log10(p.yDomain[1]));
  const decades = d3.range(eLo, eHi + 1).map(e => +Math.pow(10, e).toPrecision(1));

  // plot frame
  g.append("rect").attr("x", p.left).attr("y", p.top)
    .attr("width", p.right - p.left).attr("height", p.bottom - p.top)
    .attr("fill", "#fff").attr("stroke", "#000").attr("stroke-width", 1.5);

  // decade gridlines
  g.append("g").selectAll("line").data(decades.slice(1)).join("line")
    .attr("x1", p.left).attr("x2", p.right)
    .attr("y1", d => y(d)).attr("y2", d => y(d))
    .attr("stroke", "#c0c0c0").attr("stroke-width", 3).attr("stroke-dasharray", "10,9");

  // model curve
  g.append("path").datum(p.model)
    .attr("d", d3.line().x(d => x(yd(d[0]))).y(d => y(d[1])))
    .attr("fill", "none").attr("stroke", "#000").attr("stroke-width", 2.6).attr("stroke-linejoin", "round");

  markers(g, p.tidw, "tri", x, y);
  markers(g, p.tid, "dia", x, y);
  markers(g, p.tide, "cir", x, y);
  markers(g, p.usepa, "star", x, y);

  // y axis
  g.append("line").attr("x1", p.left).attr("x2", p.left).attr("y1", p.top).attr("y2", p.bottom)
    .attr("stroke", "#000").attr("stroke-width", 3);
  const minors = [];
  for (let e = eLo; e < eHi; e++) for (let m = 2; m <= 9; m++) minors.push(m * Math.pow(10, e));
  g.append("g").selectAll("line").data(minors).join("line")
    .attr("x1", p.left - 5).attr("x2", p.left).attr("y1", d => y(d)).attr("y2", d => y(d))
    .attr("stroke", "#000").attr("stroke-width", 1.5);
  g.append("g").selectAll("line").data(decades).join("line")
    .attr("x1", p.left - 9).attr("x2", p.left).attr("y1", d => y(d)).attr("y2", d => y(d))
    .attr("stroke", "#000").attr("stroke-width", 2);
  g.append("g").selectAll("text").data(decades).join("text")
    .attr("transform", d => `translate(${p.left - 11},${y(d)}) scale(${SX},1)`)
    .attr("text-anchor", "end").attr("dy", "0.36em")
    .attr("font-family", FONT).attr("font-size", 20).attr("fill", "#000")
    .text(d => String(d));

  // x axis
  g.append("line").attr("x1", p.left).attr("x2", p.right).attr("y1", p.bottom).attr("y2", p.bottom)
    .attr("stroke", "#000").attr("stroke-width", 3);
  g.append("g").selectAll("line").data(minorDates).join("line")
    .attr("x1", d => x(d)).attr("x2", d => x(d)).attr("y1", p.bottom).attr("y2", p.bottom + 8)
    .attr("stroke", "#000").attr("stroke-width", 1.5);
  g.append("g").selectAll("line").data(tickDates).join("line")
    .attr("x1", d => x(d)).attr("x2", d => x(d)).attr("y1", p.bottom - 9).attr("y2", p.bottom + 9)
    .attr("stroke", "#000").attr("stroke-width", 2);
  g.append("g").selectAll("text").data(tickDates).join("text")
    .attr("transform", d => `translate(${x(d)},${p.bottom + 14}) rotate(-90)`)
    .attr("text-anchor", "end").attr("dy", "0.36em")
    .attr("font-family", FONT).attr("font-size", 24).attr("fill", "#000")
    .text((d, i) => xTickLabels[i]);

  // titles
  g.append("text").attr("transform", `translate(${p.titleX},${p.titleY}) scale(1.15,1)`)
    .attr("font-family", FONT).attr("font-weight", "bold").attr("font-size", 23.5)
    .text(p.title);
  g.append("text").attr("transform", `translate(${p.yTitleX},${p.yTitleY}) rotate(-90)`)
    .attr("text-anchor", "middle").attr("dy", "0.36em")
    .attr("font-family", FONT).attr("font-weight", "bold").attr("font-size", 26)
    .text(p.yTitle);
}

const panels = [
  {left: 94, right: 2834, top: 56, bottom: 397, yDomain: [0.1, 100], titleX: 129, titleY: 39, yTitleX: 34, yTitleY: 214,
   title: panelTitles[0], yTitle: yTitles[0], model: bz90Model, tidw: bz90TidW, tid: bz90Tid, tide: bz90TidE, usepa: bz90Usepa},
  {left: 98, right: 2834, top: 600, bottom: 921, yDomain: [0.01, 100], titleX: 129, titleY: 581, yTitleX: 34, yTitleY: 758,
   title: panelTitles[1], yTitle: yTitles[1], model: bz138Model, tidw: bz138TidW, tid: bz138Tid, tide: bz138TidE, usepa: bz138Usepa},
  {left: 117, right: 2834, top: 1116, bottom: 1445, yDomain: [0.1, 10000], titleX: 143, titleY: 1095, yTitleX: 34, yTitleY: 1274,
   title: panelTitles[2], yTitle: yTitles[2], model: tpcbModel, tidw: tpcbTidW, tid: tpcbTid, tide: tpcbTidE, usepa: tpcbUsepa}
];
panels.forEach(drawPanel);

// x axis title
svg.append("text").attr("transform", `translate(1481,1567) scale(${SX},1)`)
  .attr("text-anchor", "middle").attr("font-family", FONT).attr("font-weight", "bold").attr("font-size", 26)
  .text(xTitle);

// legend
const lg = svg.append("g");
lg.append("rect").attr("x", 1827).attr("y", 7).attr("width", 903).attr("height", 42)
  .attr("fill", "#fff").attr("stroke", "#000").attr("stroke-width", 1.5);
const legendItems = [
  {kind: "dia", mx: 1865, tx: 1893},
  {kind: "cir", mx: 2028, tx: 2056},
  {kind: "tri", mx: 2216, tx: 2242},
  {kind: "star", mx: 2405, tx: 2430},
  {kind: "line", mx: 2628, tx: 2656}
];
const lgY = 28;
legendItems.forEach((it, i) => {
  if (it.kind === "line") {
    lg.append("line").attr("x1", 2604).attr("x2", 2652).attr("y1", lgY).attr("y2", lgY)
      .attr("stroke", "#000").attr("stroke-width", 2.6);
  } else {
    styleMarker(lg.append("path").attr("transform", `translate(${it.mx},${lgY})`), it.kind);
  }
  lg.append("text").attr("transform", `translate(${it.tx},${lgY}) scale(${SX},1)`)
    .attr("dy", "0.36em").attr("font-family", FONT).attr("font-size", 20)
    .text(legendLabels[i]);
});
</script>
</body>
</html>
